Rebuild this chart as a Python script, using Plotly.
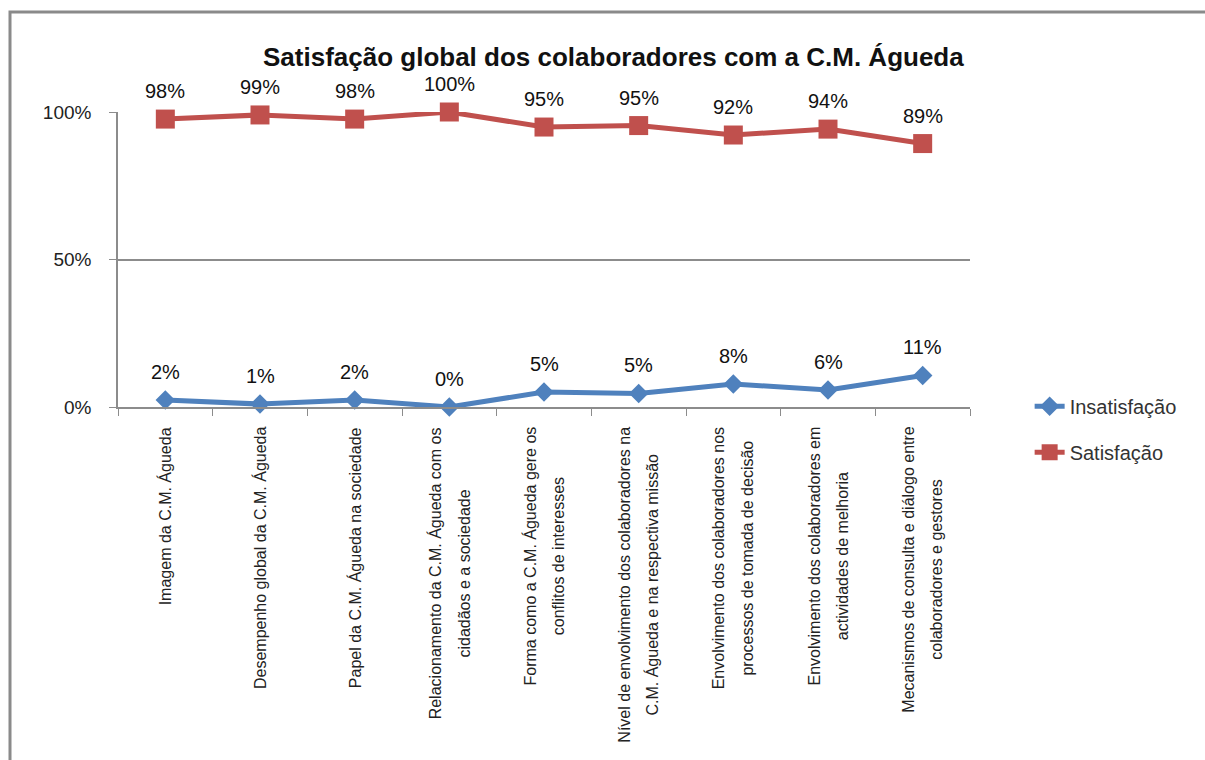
import plotly.graph_objects as go

categories = [
    "Imagem da C.M. Águeda",
    "Desempenho global da C.M. Águeda",
    "Papel da C.M. Águeda na sociedade",
    "Relacionamento da C.M. Águeda com os<br>cidadãos e a sociedade",
    "Forma como a C.M. Águeda gere os<br>conflitos de interesses",
    "Nível de envolvimento dos colaboradores na<br>C.M. Águeda e na respectiva missão",
    "Envolvimento dos colaboradores nos<br>processos de tomada de decisão",
    "Envolvimento dos colaboradores em<br>actividades de melhoria",
    "Mecanismos de consulta e diálogo entre<br>colaboradores e gestores",
]
insatisfacao = [2.4, 1.0, 2.4, 0.0, 5.1, 4.6, 7.8, 5.8, 10.7]
satisfacao = [97.6, 99.0, 97.6, 100.0, 94.9, 95.4, 92.2, 94.2, 89.3]
y_tickvals = [0, 50, 100]
y_ticktext = ["0%", "50%", "100%"]

BLUE = "#4F81BD"
RED = "#C0504D"
GRID = "#8C8C8C"
TXT = "#222222"
FONT = "Liberation Sans, Arial, sans-serif"
HIDE = "rgba(0,0,0,0)"

fig = go.Figure()
fig.add_trace(go.Scatter(
    x=categories, y=insatisfacao, name="Insatisfação", mode="lines+markers",
    line=dict(color=BLUE, width=5), marker=dict(symbol="diamond", size=15, color=BLUE),
    cliponaxis=False, legendgroup="a",
))
fig.add_trace(go.Scatter(
    x=categories, y=satisfacao, name="Satisfação", mode="lines+markers",
    line=dict(color=RED, width=5), marker=dict(symbol="square", size=19, color=RED),
    cliponaxis=False, legendgroup="b",
))

annotations = []
for series in (insatisfacao, satisfacao):
    for c, v in zip(categories, series):
        annotations.append(dict(
            x=c, y=v, xref="x", yref="y", text=f"{v:.0f}%", showarrow=False,
            yshift=28, font=dict(family=FONT, size=20, color="#111"),
        ))

# category labels: centred lines, slightly wider line spacing
for c in categories:
    lines = c.split("<br>")
    if len(lines) == 1:
        annotations.append(dict(
            x=c, y=0, xref="x", yref="paper", yshift=-18, yanchor="top",
            xanchor="center", text=c, textangle=-90, showarrow=False, align="center",
            font=dict(family=FONT, size=16, color=TXT),
        ))
    else:
        for i, shift in enumerate((-4, 4)):
            parts = [
                ln if j == i else f'<span style="color:{HIDE}">{ln}</span>'
                for j, ln in enumerate(lines)
            ]
            annotations.append(dict(
                x=c, y=0, xref="x", yref="paper", yshift=-18, xshift=shift,
                yanchor="top", xanchor="center", text="<br>".join(parts),
                textangle=-90, showarrow=False, align="center",
                font=dict(family=FONT, size=16, color=TXT),
            ))

fig.update_layout(
    width=1205, height=760,
    margin=dict(l=118, r=235, t=112, b=353),
    paper_bgcolor="white", plot_bgcolor="white",
    title=dict(text="<b>Satisfação global dos colaboradores com a C.M. Águeda</b>",
               x=0.509, xanchor="center", y=0.925, yanchor="middle",
               font=dict(family=FONT, size=26, color="#111")),
    font=dict(family=FONT, color=TXT),
    showlegend=True,
    legend=dict(x=1.07, xanchor="left", y=-0.075, yanchor="middle",
                font=dict(family=FONT, size=20, color="#333"),
                tracegroupgap=17, bgcolor="rgba(0,0,0,0)"),
    xaxis=dict(
        type="category", range=[-0.5, 8.5], showgrid=False,
        showline=True, linecolor=GRID, linewidth=1.5,
        ticks="outside", ticklen=7, tickcolor=GRID, tickson="boundaries",
        showticklabels=False,
    ),
    yaxis=dict(
        range=[0, 100], tickvals=y_tickvals, ticktext=y_ticktext,
        showgrid=True, gridcolor=GRID, gridwidth=1.5,
        showline=True, linecolor=GRID, linewidth=1.5,
        ticks="outside", ticklen=7, tickcolor=GRID,
        tickfont=dict(family=FONT, size=19, color=TXT),
        ticklabelstandoff=14, zeroline=False,
    ),
    annotations=annotations,
    shapes=[dict(type="rect", xref="paper", yref="paper",
                 x0=(10 - 118) / 852, x1=(1230 - 118) / 852,
                 y0=(407 - 800) / 295, y1=(407 - 12) / 295,
                 line=dict(color="#8A8A8A", width=3), layer="below")],
)

fig.write_html("out.html")
